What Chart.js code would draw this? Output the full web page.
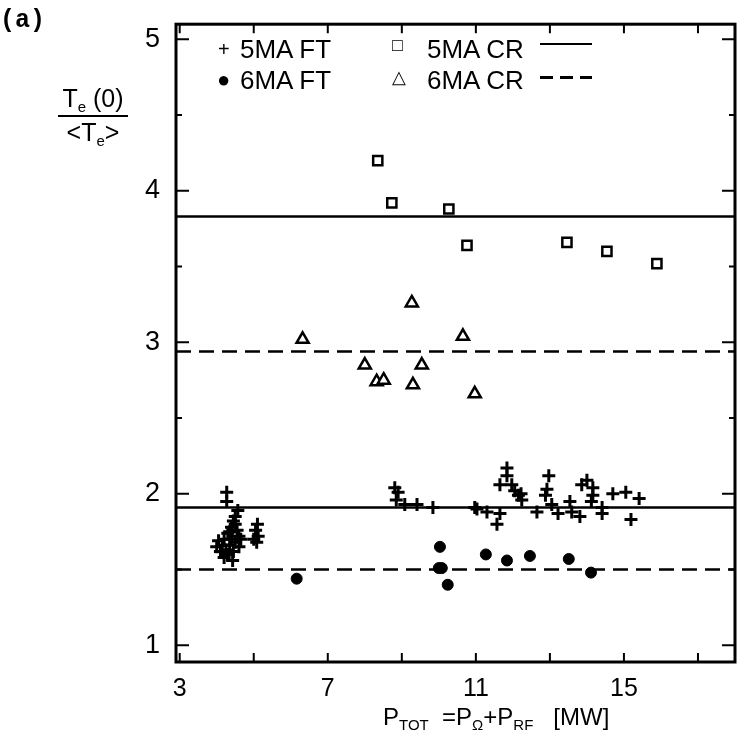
<!DOCTYPE html>
<html>
<head>
<meta charset="utf-8">
<script src="https://cdn.jsdelivr.net/npm/chart.js@4"></script>
<style>
  html, body { margin: 0; padding: 0; background: #fff; }
  #wrap { position: relative; width: 748px; height: 739px; font-family: 'Liberation Sans', Arial, sans-serif; color: #000; }
  canvas { position: absolute; left: 0; top: 0; }
  .txt { position: absolute; white-space: nowrap; font-size: 26px; line-height: 1; }
  .mono { font-family: 'Liberation Mono', 'DejaVu Sans Mono', monospace; font-weight: bold; font-size: 25px; }
  .rule { position: absolute; height: 0; width: 52px; border-top: 2.5px solid #000; }
  .dashrule { position: absolute; height: 2.5px; width: 52px;
    background: repeating-linear-gradient(90deg, #000 0 13px, transparent 13px 20px); }
  sub { font-size: 15px; vertical-align: -5px; }
</style>
</head>
<body>
<div id="wrap">
  <canvas id="chart" width="748" height="739"></canvas>
  <div class="txt mono" style="left:0px; top:8px;">(a)</div>
  <div class="txt" style="left:58px; top:86px; font-size:25px; text-align:center; width:70px;">
    <div style="border-bottom:2px solid #000; padding-bottom:1px;">T<sub>e</sub> (0)</div>
    <div style="padding-top:3px;">&lt;T<sub>e</sub>&gt;</div>
  </div>
  <div class="txt" style="left:218px; top:39px; font-size:20px;">+</div>
  <div class="txt" style="left:240px; top:36px;">5MA FT</div>
  <div class="txt" style="left:217px; top:69px; font-size:22px;">&#9679;</div>
  <div class="txt" style="left:240px; top:67px;">6MA FT</div>
  <div class="txt" style="left:392px; top:36px; font-size:18px;">&#9633;</div>
  <div class="txt" style="left:427px; top:36px;">5MA CR</div>
  <div class="rule" style="left:540px; top:43px;"></div>
  <div class="txt" style="left:392px; top:68px; font-size:18px;">&#9651;</div>
  <div class="txt" style="left:427px; top:67px;">6MA CR</div>
  <div class="dashrule" style="left:540px; top:76px;"></div>
  <div class="txt" style="left:383px; top:705px; font-size:24px;">P<sub>TOT</sub> &nbsp;=P<sub>&Omega;</sub>+P<sub>RF</sub> &nbsp;&nbsp;[MW]</div>
</div>
<script>
// 5 MA, flat top
const ft5X = [4.27, 4.27, 4.57, 4.5, 4.45, 4.4, 4.55, 4.3, 4.6, 4.2, 4.4, 4.05, 4.15, 4.35, 4.5, 4.0, 4.25, 4.1, 4.45, 4.3, 4.2, 4.43, 4.6, 4.65, 4.35, 4.5,
  5.1, 5.05, 5.12, 5.08, 5.0,
  8.81, 8.9, 8.85, 9.08, 9.41, 9.84, 10.97, 11.03, 11.3, 11.57, 11.65, 11.84, 11.84, 11.65, 11.97, 12.05, 12.15, 12.24, 12.22,
  12.65, 12.97, 12.92, 12.88, 13.05, 13.22, 13.54, 13.59, 13.81, 13.86, 14.0, 14.16, 14.16, 14.12, 14.41, 14.41, 14.7, 15.05, 15.19, 15.41];
const ft5Y = [2.01, 1.95, 1.89, 1.85, 1.82, 1.78, 1.76, 1.74, 1.72, 1.70, 1.70, 1.69, 1.66, 1.66, 1.68, 1.65, 1.63, 1.62, 1.62, 1.60, 1.58, 1.56, 1.65, 1.70, 1.75, 1.80,
  1.80, 1.76, 1.72, 1.68, 1.70,
  2.04, 2.01, 1.96, 1.93, 1.93, 1.91, 1.91, 1.90, 1.88, 1.80, 1.87, 2.17, 2.12, 2.06, 2.06, 2.02, 1.99, 1.96, 2.00,
  1.88, 2.12, 2.03, 1.99, 1.93, 1.87, 1.95, 1.88, 1.85, 2.06, 2.09, 2.04, 1.99, 1.95, 1.91, 1.87, 2.00, 2.01, 1.83, 1.97];

// 6 MA, flat top
const ft6X = [6.16, 10.03, 10.0, 10.08, 10.24, 11.27, 11.84, 12.46, 13.51, 14.11];
const ft6Y = [1.44, 1.65, 1.51, 1.51, 1.40, 1.60, 1.56, 1.59, 1.57, 1.48];

// 5 MA, current ramp
const cr5X = [8.35, 8.73, 10.27, 10.76, 13.46, 14.54, 15.89];
const cr5Y = [4.20, 3.92, 3.88, 3.64, 3.66, 3.60, 3.52];

// 6 MA, current ramp
const cr6X = [6.32, 9.27, 10.65, 8.0, 9.54, 8.32, 8.51, 9.30, 10.97];
const cr6Y = [3.02, 3.26, 3.04, 2.85, 2.85, 2.74, 2.75, 2.72, 2.66];

// reference levels (solid = 5 MA, dashed = 6 MA)
const cr5Level = 3.83, cr6Level = 2.94, ft5Level = 1.91, ft6Level = 1.50;

const xRange = [2.9, 18];
const yRange = [0.89, 5.1];
const xTickVals = [3, 5, 7, 9, 11, 13, 15, 17];
const xTickLabels = [3, 7, 11, 15];
const yTickVals = [1, 2, 3, 4, 5];
const yMinorVals = [1.5, 2.5, 3.5, 4.5];

const pts = (xs, ys) => xs.map((x, i) => ({ x, y: ys[i] }));
const level = v => [{ x: xRange[0], y: v }, { x: xRange[1], y: v }];

const lineDs = (v, dashed) => ({
  type: 'line', data: level(v), borderColor: '#000', borderWidth: 2.5,
  borderDash: dashed ? [15, 8] : [], pointRadius: 0, fill: false,
});

const frame = {
  id: 'frame',
  afterDraw(chart) {
    const { ctx, chartArea: a, scales: { x, y } } = chart;
    ctx.save();
    ctx.strokeStyle = '#000';
    ctx.lineWidth = 3;
    ctx.strokeRect(a.left, a.top, a.right - a.left, a.bottom - a.top);
    ctx.lineWidth = 2;
    ctx.beginPath();
    xTickVals.forEach(v => {
      const px = x.getPixelForValue(v);
      ctx.moveTo(px, a.bottom); ctx.lineTo(px, a.bottom - 9);
      ctx.moveTo(px, a.top); ctx.lineTo(px, a.top + 9);
    });
    yTickVals.forEach(v => {
      const py = y.getPixelForValue(v);
      ctx.moveTo(a.left, py); ctx.lineTo(a.left + 13, py);
      ctx.moveTo(a.right, py); ctx.lineTo(a.right - 13, py);
    });
    yMinorVals.forEach(v => {
      const py = y.getPixelForValue(v);
      ctx.moveTo(a.left, py); ctx.lineTo(a.left + 6, py);
      ctx.moveTo(a.right, py); ctx.lineTo(a.right - 6, py);
    });
    ctx.stroke();
    ctx.restore();
  }
};

new Chart(document.getElementById('chart'), {
  type: 'scatter',
  data: {
    datasets: [
      lineDs(cr5Level, false),
      lineDs(cr6Level, true),
      lineDs(ft5Level, false),
      lineDs(ft6Level, true),
      { label: '5MA FT', data: pts(ft5X, ft5Y), pointStyle: 'cross', pointRadius: 6.5, borderColor: '#000', borderWidth: 3 },
      { label: '6MA FT', data: pts(ft6X, ft6Y), pointStyle: 'circle', pointRadius: 5.5, borderColor: '#000', backgroundColor: '#000', borderWidth: 1 },
      { label: '5MA CR', data: pts(cr5X, cr5Y), pointStyle: 'rect', pointRadius: 6.5, borderColor: '#000', backgroundColor: '#fff', borderWidth: 2.5 },
      { label: '6MA CR', data: pts(cr6X, cr6Y), pointStyle: 'triangle', pointRadius: 7, borderColor: '#000', backgroundColor: '#fff', borderWidth: 2.5 },
    ],
  },
  options: {
    responsive: false,
    animation: false,
    layout: { padding: { left: 136, right: 13, top: 17, bottom: 37 } },
    plugins: { legend: { display: false }, tooltip: { enabled: false } },
    scales: {
      x: {
        type: 'linear', min: xRange[0], max: xRange[1],
        grid: { display: false }, border: { display: false },
        afterBuildTicks: s => { s.ticks = xTickVals.map(v => ({ value: v })); },
        afterFit: s => { s.height = 40; },
        ticks: {
          autoSkip: false, maxRotation: 0, padding: 4, color: '#000',
          font: { family: 'Liberation Sans', size: 25 },
          callback: v => xTickLabels.includes(v) ? String(v) : '',
        },
      },
      y: {
        type: 'linear', min: yRange[0], max: yRange[1],
        grid: { display: false }, border: { display: false },
        afterBuildTicks: s => { s.ticks = yTickVals.map(v => ({ value: v })); },
        afterFit: s => { s.width = 40; },
        ticks: {
          autoSkip: false, padding: 8, color: '#000',
          font: { family: 'Liberation Sans', size: 27 },
          callback: v => String(v),
        },
      },
    },
  },
  plugins: [frame],
});
</script>
</body>
</html>
